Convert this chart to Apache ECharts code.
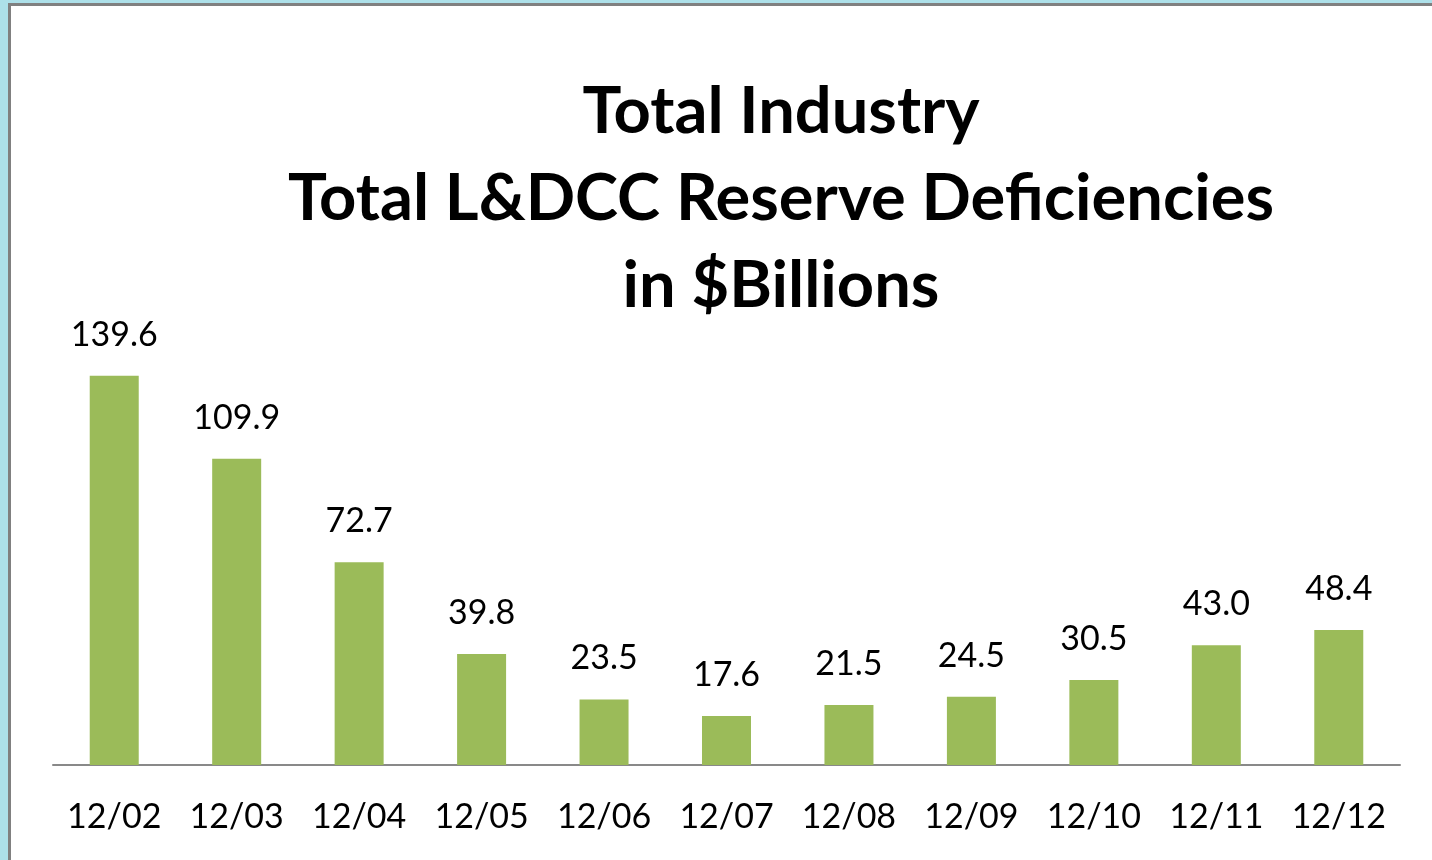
<!DOCTYPE html>
<html>
<head>
<meta charset="utf-8">
<script src="https://cdn.jsdelivr.net/npm/echarts@6/dist/echarts.min.js"></script>
<style>
html,body{margin:0;padding:0;background:#ade0e9;}
#c{width:1432px;height:860px;}
</style>
</head>
<body>
<div id="c"></div>
<script>
const titleLines = ['Total Industry', 'Total L&DCC Reserve Deficiencies', 'in $Billions'];
const categories = ['12/02','12/03','12/04','12/05','12/06','12/07','12/08','12/09','12/10','12/11','12/12'];
const values = [139.6, 109.9, 72.7, 39.8, 23.5, 17.6, 21.5, 24.5, 30.5, 43.0, 48.4];

const chart = echarts.init(document.getElementById('c'), null, {renderer: 'canvas'});
chart.setOption({
  backgroundColor: '#ade0e9',
  animation: false,
  graphic: [
    {type: 'rect', z: -10, shape: {x: 9.5, y: 4.5, width: 1440, height: 880},
     style: {fill: '#ffffff', stroke: '#808080', lineWidth: 3}}
  ],
  title: {
    text: titleLines.join('\n'),
    left: 776, textAlign: 'center', top: 64,
    textStyle: {fontFamily: 'Lato', fontWeight: 'bold', fontSize: 65, lineHeight: 87, color: '#000'}
  },
  grid: {left: 53, right: 32, top: 319, bottom: 95, containLabel: false},
  xAxis: {
    type: 'category', data: categories,
    axisLine: {show: true, lineStyle: {color: '#898989', width: 2}},
    axisTick: {show: false},
    axisLabel: {interval: 0, hideOverlap: false, fontFamily: 'Lato', fontSize: 34, color: '#000', margin: 35}
  },
  yAxis: {type: 'value', min: 0, max: 160, show: false, splitLine: {show: false}},
  series: [{
    type: 'bar', data: values, barWidth: 49,
    itemStyle: {color: '#9bbb59'},
    label: {show: true, position: 'top', distance: 24, fontFamily: 'Lato', fontSize: 34, color: '#000',
      formatter: p => p.value.toFixed(1)}
  }]
});
</script>
</body>
</html>
